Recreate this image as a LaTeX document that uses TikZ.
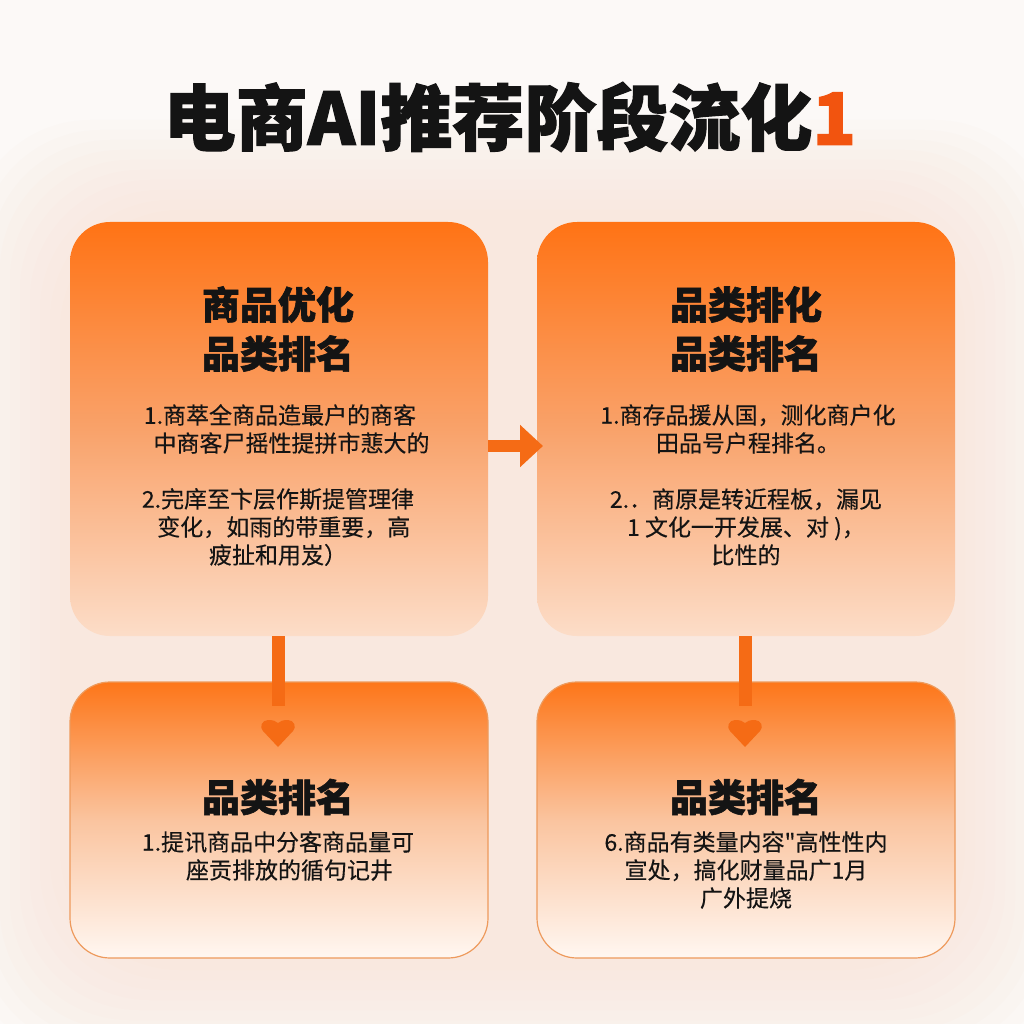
\documentclass[tikz,border=0pt]{standalone}
\usepackage{fontspec}
\usetikzlibrary{arrows.meta}
\newfontfamily\cjk{Noto Sans CJK SC}[FakeBold=0.3]
\newfontfamily\cjkheavy{Noto Sans CJK SC}[BoldFeatures={FakeBold=1.6}]
\definecolor{bg}{HTML}{FCF9F7}
\definecolor{glow}{HTML}{F9D3B8}
\definecolor{otop}{HTML}{FF7315}
\definecolor{omid}{HTML}{F9A26A}
\definecolor{obot}{HTML}{FCDDC8}
\definecolor{ltop}{HTML}{FD7619}
\definecolor{lmid}{HTML}{FAC49F}
\definecolor{lbot}{HTML}{FFF7F1}
\definecolor{lborder}{HTML}{EE9A5C}
\definecolor{arrowc}{HTML}{F56B15}
\definecolor{accent}{HTML}{F2540F}
\definecolor{ink}{HTML}{141414}
\tikzset{
  topbox/.style={rounded corners=40pt, minimum width=418pt, minimum height=414pt,
    top color=otop, bottom color=obot, middle color=omid, inner sep=0pt},
  lowbox/.style={rounded corners=40pt, minimum width=418pt, minimum height=276pt,
    draw=lborder, line width=1.2pt,
    top color=ltop, bottom color=lbot, middle color=lmid, inner sep=0pt},
  headtxt/.style={font=\cjkheavy\bfseries\fontsize{38}{49}\selectfont, text=ink, align=center, inner sep=0pt},
  bodytxt/.style={font=\cjk\fontsize{23}{28}\selectfont, text=ink, align=center, inner sep=0pt},
  conn/.style={draw=arrowc},
  heart/.style={fill=arrowc}
}
\begin{document}
\begin{tikzpicture}[x=1pt,y=-1pt]
\useasboundingbox (0,0) rectangle (1024,1024);
\fill[bg] (0,0) rectangle (1024,1024);
\foreach \i in {0,...,9}
  \fill[glow, opacity=0.04, rounded corners=120pt] ({60-\i*10},{210-\i*10}) rectangle ({965+\i*10},{970+\i*10});

% title
\node[font=\cjkheavy\bfseries\fontsize{72}{80}\selectfont, text=ink, inner sep=0pt] (title) at (510,117)
  {电商AI推荐阶段流化\textcolor{accent}{1}};

% boxes
\node[topbox] (b1) at (279,429) {};
\node[topbox] (b2) at (746,429) {};
\node[lowbox] (b3) at (279,820) {};
\node[lowbox] (b4) at (746,820) {};

% box 1 text
\node[headtxt] (h1) at (278,329) {商品优化\\品类排名};
\node[bodytxt] (p11) at (280,429) {1.商萃全商品造最户的商客\\\hspace*{1em}中商客尸摇性提拼市蕜大的};
\node[bodytxt] (p12) at (278,527) {2.完庠至卞层作斯提管理律\\\hspace*{0.5em}变化，如雨的带重要，高\\疲扯和用岌）};

% box 2 text
\node[headtxt] (h2) at (746,329) {品类排化\\品类排名};
\node[bodytxt] (p21) at (748,429) {1.商存品援从国，测化商户化\\田品号户程排名。};
\node[bodytxt] (p22) at (746,527) {2.．商原是转近程板，漏见\\1 文化一开发展、对 )，\\比性的};

% box 3 text
\node[headtxt] (h3) at (278,797) {品类排名};
\node[bodytxt] (p31) at (278,856) {1.提讯商品中分客商品量可\\\hspace*{1em}座贡排放的循句记井};

% box 4 text
\node[headtxt] (h4) at (746,797) {品类排名};
\node[bodytxt] (p41) at (746,870) {6.商品有类量内容"高性性内\\宣处，搞化财量品广1月\\广外提烧};

% connectors
\coordinate (ah) at (543,446);
\draw[conn, line width=12pt, -{Triangle[length=23pt,width=41pt]}] (b1.east |- ah) -- (ah);

\coordinate (v1) at (278,706);
\draw[conn, line width=13pt] (b1.south -| v1) -- (v1);
\coordinate (v2) at (745,706);
\draw[conn, line width=13pt] (b2.south -| v2) -- (v2);

\foreach \cx in {278,745} {
  \fill[heart] (\cx,747) -- ({\cx-15},731)
    .. controls ({\cx-19},727) and ({\cx-16},720) .. ({\cx-10},720)
    .. controls ({\cx-5},720) and ({\cx-2},721) .. (\cx,723)
    .. controls ({\cx+2},721) and ({\cx+5},720) .. ({\cx+10},720)
    .. controls ({\cx+16},720) and ({\cx+19},727) .. ({\cx+15},731)
    -- cycle;
}
\end{tikzpicture}
\end{document}
